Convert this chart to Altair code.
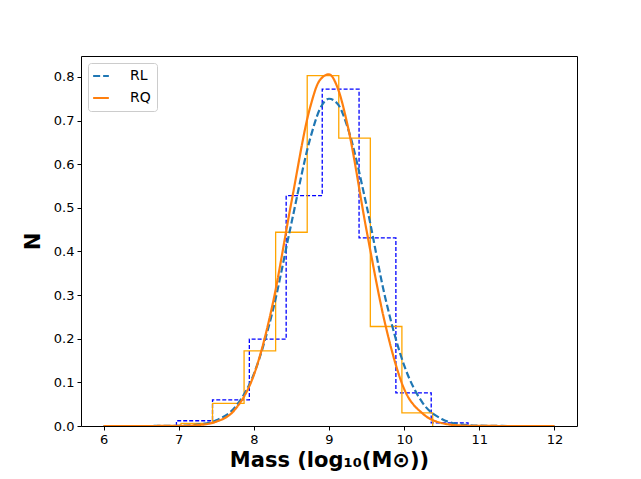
import altair as alt
import pandas as pd

# Histogram (density, step outline)
rl_edges = [6.97, 7.45, 7.94, 8.43, 8.91, 9.40, 9.89, 10.36, 10.85]
rl_heights = [0.012, 0.060, 0.199, 0.528, 0.772, 0.431, 0.076, 0.007]
rq_edges = [7.03, 7.45, 7.87, 8.29, 8.71, 9.13, 9.55, 9.97, 10.38]
rq_heights = [0.006, 0.052, 0.172, 0.444, 0.803, 0.660, 0.228, 0.030]

# Fitted curves
curve_x = [6.0, 6.5, 7.0, 7.25, 7.5, 7.75, 8.0, 8.25, 8.5, 8.75, 8.875, 9.0,
           9.125, 9.25, 9.5, 9.75, 10.0, 10.25, 10.5, 10.75, 11.0, 11.5, 12.0]
rl_curve = [0.0, 0.0, 0.0006, 0.003, 0.013, 0.043, 0.119, 0.263, 0.465, 0.659,
            0.725, 0.750, 0.736, 0.683, 0.505, 0.293, 0.139, 0.052, 0.016,
            0.004, 0.0007, 0.0, 0.0]
rq_curve = [0.0, 0.0, 0.0003, 0.002, 0.010, 0.038, 0.117, 0.279, 0.513, 0.731,
            0.792, 0.806, 0.770, 0.687, 0.448, 0.232, 0.085, 0.028, 0.0067,
            0.0012, 0.0002, 0.0, 0.0]

x_ticks = [6, 7, 8, 9, 10, 11, 12]
y_ticks = [0.0, 0.1, 0.2, 0.3, 0.4, 0.5, 0.6, 0.7, 0.8]
series = ["RL", "RQ"]


def step_rows(edges, heights):
    rows = [{"x": edges[0], "y": 0.0}]
    for e, h in zip(edges[:-1], heights):
        rows.append({"x": e, "y": h})
    rows.append({"x": edges[-1], "y": 0.0})
    for i, r in enumerate(rows):
        r["i"] = i
    return pd.DataFrame(rows)


rl_hist = step_rows(rl_edges, rl_heights)
rq_hist = step_rows(rq_edges, rq_heights)

curves = pd.DataFrame(
    [{"x": x, "y": y, "s": "RL"} for x, y in zip(curve_x, rl_curve)]
    + [{"x": x, "y": y, "s": "RQ"} for x, y in zip(curve_x, rq_curve)]
)

xscale = alt.Scale(domain=[5.7, 12.3], nice=False, zero=False)
yscale = alt.Scale(domain=[0, 0.848], nice=False, zero=False)

xaxis = alt.Axis(values=x_ticks, format="d", title="Mass (log₁₀(M⊙))",
                 titleFontSize=21, titleFontWeight="bold", titlePadding=3)
yaxis = alt.Axis(values=y_ticks, format=".1f", title="N",
                 titleFontSize=21, titleFontWeight="bold", titlePadding=10)

X = alt.X("x:Q", scale=xscale, axis=xaxis)
Y = alt.Y("y:Q", scale=yscale, axis=yaxis)

h_rl = alt.Chart(rl_hist).mark_line(
    interpolate="step-after", color="blue", strokeWidth=1.3,
    strokeDash=[4, 2], clip=True
).encode(x=X, y=Y, order="i:Q")

h_rq = alt.Chart(rq_hist).mark_line(
    interpolate="step-after", color="orange", strokeWidth=1.3, clip=True
).encode(x=X, y=Y, order="i:Q")

leg = alt.Legend(title=None, orient="top-left", offset=7,
                 symbolType="M-1.5,0L1.5,0", symbolSize=110,
                 symbolStrokeWidth=2.2, labelFontSize=14,
                 labelFont="DejaVu Sans", labelColor="black",
                 strokeColor="#cccccc", fillColor="white", padding=6,
                 cornerRadius=3, rowPadding=8, labelOffset=22)

c = alt.Chart(curves).mark_line(
    interpolate="monotone", strokeWidth=2.2, clip=True
).encode(
    x=X, y=Y,
    color=alt.Color("s:N", scale=alt.Scale(domain=series,
                    range=["#1f77b4", "#ff7f0e"]), legend=leg),
    strokeDash=alt.StrokeDash("s:N", scale=alt.Scale(domain=series,
                              range=[[7, 3], [1, 0]]), legend=leg),
    order="x:Q",
)

chart = alt.layer(h_rl, h_rq, c).properties(
    width=496, height=370,
    autosize=alt.AutoSizeParams(type="none"),
    padding={"left": 73, "top": 48, "right": 56, "bottom": 52},
    background="white",
).configure_view(
    stroke="black", strokeWidth=1
).configure_axis(
    grid=False, domain=False, tickColor="black", tickSize=4, tickWidth=1,
    labelFont="DejaVu Sans", labelFontSize=13, labelColor="black",
    titleFont="DejaVu Sans", titleColor="black", labelPadding=3,
)

chart.save("out.html", embed_options={"renderer": "svg", "actions": False})
